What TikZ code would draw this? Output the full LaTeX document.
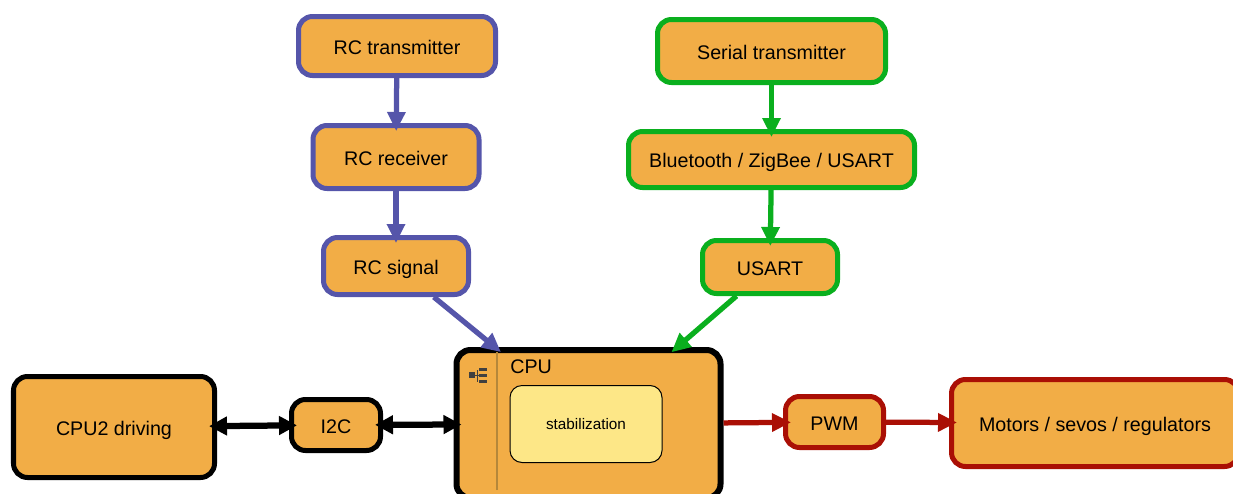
\documentclass[tikz,border=0pt]{standalone}
\usepackage{fontspec}
\setmainfont{Liberation Sans}
\usetikzlibrary{arrows.meta}
\definecolor{boxfill}{HTML}{F2AD46}
\definecolor{innerfill}{HTML}{FDE787}
\definecolor{sepline}{HTML}{B5873A}
\definecolor{rcblue}{HTML}{5555AA}
\definecolor{serialgreen}{HTML}{0AAF1E}
\definecolor{motorred}{HTML}{AA0F05}

\begin{document}
\begin{tikzpicture}[every node/.style={font=\fontsize{11.2}{13}\selectfont},
	unit/.style={draw, fill=boxfill, line width=1mm, rounded corners=2.8mm, inner sep=0pt, text depth=0pt, text height=1.8ex},
	rcunit/.style={unit, draw=rcblue},
	serialunit/.style={unit, draw=serialgreen},
	cpuunit/.style={unit, draw=black},
	outunit/.style={unit, draw=motorred},
	link/.style={line width=1.05mm, shorten >=-1.6mm, -{Triangle[length=3.8mm,width=3.5mm]}},
	rclink/.style={link, draw=rcblue, fill=rcblue},
	seriallink/.style={link, draw=serialgreen, fill=serialgreen},
	outlink/.style={link, draw=motorred, fill=motorred},
	buslink/.style={link, black, line width=1.25mm, shorten <=-1.6mm, {Triangle[length=3.6mm,width=3.6mm]}-{Triangle[length=3.6mm,width=3.6mm]}}]
	\useasboundingbox (0,0) rectangle (24.66,9.86);

	% RC chain
	\node[rcunit, minimum width=3.94cm, minimum height=1.18cm] (rctx) at (7.94,8.94) {RC transmitter};
	\node[rcunit, minimum width=3.32cm, minimum height=1.26cm] (rcrx) at (7.92,6.72) {RC receiver};
	\node[rcunit, minimum width=2.9cm, minimum height=1.14cm] (rcsig) at (7.92,4.54) {RC signal};

	% serial chain
	\node[serialunit, minimum width=4.56cm, minimum height=1.26cm] (sertx) at (15.43,8.84) {Serial transmitter};
	\node[serialunit, minimum width=5.72cm, minimum height=1.12cm] (bt) at (15.43,6.67) {Bluetooth / ZigBee / USART};
	\node[serialunit, minimum width=2.7cm, minimum height=1.06cm] (usart) at (15.4,4.52) {USART};

	% bottom row
	\node[cpuunit, minimum width=4.02cm, minimum height=2.02cm] (cputwo) at (2.28,1.32) {CPU2 driving};
	\node[cpuunit, minimum width=1.78cm, minimum height=1.02cm] (itwoc) at (6.72,1.36) {I2C};
	\node[cpuunit, line width=1.2mm, minimum width=5.28cm, minimum height=2.96cm] (cpu) at (11.77,1.38) {};
	\node[outunit, minimum width=1.96cm, minimum height=1.02cm] (pwm) at (16.69,1.42) {PWM};
	\node[outunit, minimum width=5.74cm, minimum height=1.74cm] (motors) at (21.9,1.4) {Motors / sevos / regulators};

	% inside the CPU
	\draw[sepline, line width=.4mm] (9.94,.06) -- (9.94,2.82);
	\node[anchor=west, inner sep=0pt] (cputitle) at (10.2,2.52) {CPU};
	\node[draw, fill=innerfill, line width=.2mm, rounded corners=2.4mm, minimum width=3.04cm, minimum height=1.54cm, inner sep=0pt, font=\fontsize{8.7}{10}\selectfont] (stab) at (11.72,1.38) {stabilization};
	\fill[black!75] (9.38,2.3) rectangle (9.5,2.42);
	\fill[black!75] (9.58,2.44) rectangle (9.74,2.5);
	\fill[black!75] (9.58,2.32) rectangle (9.74,2.38);
	\fill[black!75] (9.58,2.2) rectangle (9.74,2.26);
	\draw[black!75, line width=.1mm] (9.5,2.35) -- (9.58,2.35) (9.54,2.23) -- (9.54,2.47);

	% connectors
	\draw[rclink] (rctx) -- (rcrx);
	\draw[rclink] (rcrx) -- (rcsig);
	\draw[rclink] (rcsig) -- (cpu);
	\draw[seriallink] (sertx) -- (bt);
	\draw[seriallink] (bt) -- (usart);
	\draw[seriallink] (usart) -- (cpu);
	\draw[buslink] (cputwo) -- (itwoc);
	\draw[buslink] (itwoc) -- (cpu);
	\draw[outlink] (cpu) -- (pwm);
	\draw[outlink] (pwm) -- (motors);
\end{tikzpicture}
\end{document}
